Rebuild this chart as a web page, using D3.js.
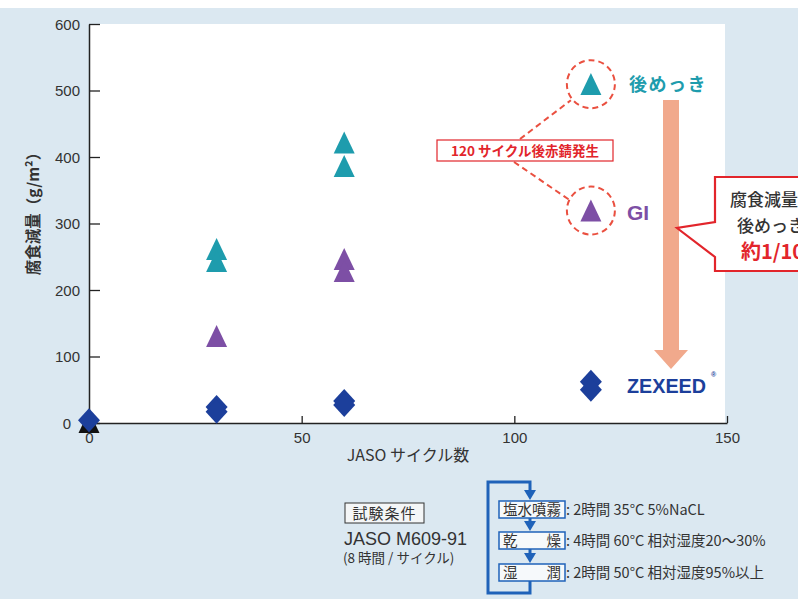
<!DOCTYPE html>
<html><head><meta charset="utf-8">
<script src="https://cdn.jsdelivr.net/npm/d3@7"></script>
<style>
html,body{margin:0;padding:0;background:#fff;}
svg{display:block;}
text{font-family:"Liberation Sans","Noto Sans CJK JP",sans-serif;}
.jp{font-family:"Noto Sans CJK JP","Liberation Sans",sans-serif;}
</style></head>
<body>
<svg id="c" width="798" height="599"></svg>
<script>
// ---- data ----
const xTicks = [0, 50, 100, 150];
const yTicks = [0, 100, 200, 300, 400, 500, 600];
const platingCycles = [30, 30, 60, 60, 118];
const platingValues = [260, 242, 420, 385, 508];
const giCycles = [30, 60, 60, 118];
const giValues = [129, 245, 227, 318];
const zexeedCycles = [0, 30, 30, 60, 60, 118, 118];
const zexeedValues = [4, 24, 17, 33, 27, 62, 50];
const bareCycles = [0];
const bareValues = [0];
const seriesLabels = ["後めっき", "GI", "ZEXEED"];
const xTitle = "JASO サイクル数";
const yTitle = "腐食減量（g/m²）";
const rustNote = "120 サイクル後赤錆発生";
const calloutLines = ["腐食減量は", "後めっきの", "約1/10"];
const condSteps = ["塩水噴霧", "乾　　燥", "湿　　潤"];
const condDetails = [": 2時間 35°C  5%NaCL", ": 4時間 60°C  相対湿度20〜30%", ": 2時間 50°C  相対湿度95%以上"];

const C = {teal:"#1e9cad", purple:"#7d4fa5", navy:"#1c3f9b", red:"#e2252b", salmon:"#f1a98c", blue:"#1f62b9", bg:"#dbe8f1"};

const svg = d3.select("#c");
// background
svg.append("rect").attr("width",798).attr("height",599).attr("fill",C.bg);
svg.append("rect").attr("width",798).attr("height",8).attr("fill","#fff");

const x = d3.scaleLinear().domain([0,150]).range([89,727]);
const y = d3.scaleLinear().domain([0,600]).range([423,24]);

// white plot panel
svg.append("rect").attr("x",x(0)).attr("y",y(600)).attr("width",725-x(0)).attr("height",y(0)-y(600)).attr("fill","#fff");

// axes
const gx = svg.append("g").attr("transform",`translate(0,${y(0)})`)
  .call(d3.axisBottom(x).tickValues(xTicks).tickSizeInner(-7).tickSizeOuter(0).tickPadding(9));
const gy = svg.append("g").attr("transform",`translate(${x(0)},0)`)
  .call(d3.axisLeft(y).tickValues(yTicks).tickSizeInner(-11).tickSizeOuter(0).tickPadding(9));
[gx,gy].forEach(g=>{
  g.selectAll(".domain").attr("stroke","#222").attr("stroke-width",1.5);
  g.selectAll(".tick line").attr("stroke","#222").attr("stroke-width",1.3);
  g.selectAll(".tick text").attr("fill","#333").style("font-size","15px").style("font-family","Liberation Sans, sans-serif");
});
gy.selectAll(".tick text").attr("dy","0.35em").attr("dx",d=>d===0?-9:0);

// axis titles
svg.append("text").attr("class","jp").attr("x",408).attr("y",461).attr("text-anchor","middle")
  .attr("fill","#333").style("font-size","16px").text(xTitle);
svg.append("text").attr("class","jp").attr("transform","translate(39,210) rotate(-90)").attr("text-anchor","middle")
  .attr("fill","#333").style("font-size","15.5px").style("font-weight","bold").text(yTitle);

// marker shapes
const tri = (w,h)=>`M0,${-h*0.55}L${w/2},${h*0.45}L${-w/2},${h*0.45}Z`;
const dia = (w,h)=>`M0,${-h/2}L${w/2},0L0,${h/2}L${-w/2},0Z`;

function plot(cs, vs, path, color){
  svg.append("g").selectAll("path").data(cs.map((c,i)=>[c,vs[i]])).join("path")
    .attr("d",path).attr("fill",color)
    .attr("transform",d=>`translate(${x(d[0])},${y(d[1])})`);
}
plot(bareCycles, bareValues, tri(21,22), "#111");
plot(platingCycles, platingValues, tri(21,22), C.teal);
plot(giCycles, giValues, tri(21,22), C.purple);
plot(zexeedCycles, zexeedValues, dia(22,24), C.navy);

// annotation circles around 118-cycle points
const annoIdx = [[platingCycles[4],platingValues[4]],[giCycles[3],giValues[3]]];
svg.append("g").selectAll("circle").data(annoIdx).join("circle")
  .attr("cx",d=>x(d[0])).attr("cy",d=>y(d[1])-1).attr("r",24)
  .attr("fill","none").attr("stroke","#ea5040").attr("stroke-width",2).attr("stroke-dasharray","6,4");

// dashed leaders to note box
svg.append("line").attr("x1",520).attr("y1",139).attr("x2",x(118)-20).attr("y2",y(platingValues[4])+15)
  .attr("stroke","#ea5040").attr("stroke-width",2).attr("stroke-dasharray","6,4");
svg.append("line").attr("x1",514).attr("y1",162).attr("x2",x(118)-22).attr("y2",y(giValues[3])-12)
  .attr("stroke","#ea5040").attr("stroke-width",2).attr("stroke-dasharray","6,4");
svg.append("rect").attr("x",437).attr("y",140).attr("width",176).attr("height",21)
  .attr("fill","#fff").attr("stroke",C.red).attr("stroke-width",1.2);
svg.append("text").attr("class","jp").attr("x",525).attr("y",156).attr("text-anchor","middle")
  .attr("fill",C.red).style("font-size","13.5px").style("font-weight","bold").text(rustNote);

// series labels
svg.append("text").attr("class","jp").attr("x",629).attr("y",91).attr("fill",C.teal)
  .style("font-size","18px").style("font-weight","bold").style("letter-spacing","1.5px").text(seriesLabels[0]);
svg.append("text").attr("x",627).attr("y",220).attr("fill",C.purple)
  .style("font-size","21px").style("font-weight","bold").text(seriesLabels[1]);
svg.append("text").attr("x",627).attr("y",393).attr("fill",C.navy)
  .style("font-size","21px").style("font-weight","bold").attr("textLength",79).attr("lengthAdjust","spacingAndGlyphs").text(seriesLabels[2]);
svg.append("text").attr("x",711).attr("y",377).attr("fill",C.navy).style("font-size","7px").style("font-weight","bold").text("®");

// salmon arrow
svg.append("path").attr("d","M663,100L679,100L679,350L688,350L671,369L654,350L663,350Z").attr("fill",C.salmon);

// callout
svg.append("path").attr("d","M715,177L810,177L810,271L715,271L715,257L677,228L715,222Z")
  .attr("fill","#fff").attr("stroke",C.red).attr("stroke-width",2.2).attr("stroke-linejoin","miter");
svg.append("text").attr("class","jp").attr("x",730).attr("y",206).attr("fill","#333")
  .style("font-size","17px").style("font-weight","500").text(calloutLines[0]);
svg.append("text").attr("class","jp").attr("x",737).attr("y",232).attr("fill","#333")
  .style("font-size","17px").style("font-weight","500").text(calloutLines[1]);
svg.append("text").attr("class","jp").attr("x",741).attr("y",259).attr("fill",C.red)
  .style("font-size","20px").style("font-weight","bold").text(calloutLines[2]);

// test conditions
svg.append("rect").attr("x",345).attr("y",503).attr("width",79).attr("height",20).attr("fill","#f4f6f7").attr("stroke","#333").attr("stroke-width",1);
svg.append("text").attr("class","jp").attr("x",384.5).attr("y",519).attr("text-anchor","middle").attr("fill","#333")
  .style("font-size","15px").style("letter-spacing","1px").text("試験条件");
svg.append("text").attr("x",344).attr("y",545).attr("fill","#333").style("font-size","18px").text("JASO M609-91");
svg.append("text").attr("class","jp").attr("x",343).attr("y",563).attr("fill","#333").style("font-size","13.5px").text("(8 時間 / サイクル)");

// loop
svg.append("path").attr("d","M530,496L530,482L488,482L488,593L530,593L530,581")
  .attr("fill","none").attr("stroke",C.blue).attr("stroke-width",3);
const boxTop = [501, 532, 564];
boxTop.forEach((t,i)=>{
  if(i>0) svg.append("line").attr("x1",530).attr("x2",530).attr("y1",boxTop[i-1]+17).attr("y2",t-8).attr("stroke",C.blue).attr("stroke-width",3);
  svg.append("path").attr("d",`M524,${t-11}L536,${t-11}L530,${t-1}Z`).attr("fill",C.blue);
  svg.append("rect").attr("x",499).attr("y",t).attr("width",66).attr("height",17).attr("fill","#f6f9fb").attr("stroke",C.blue).attr("stroke-width",1.5);
  svg.append("text").attr("class","jp").attr("x",532).attr("y",t+14).attr("text-anchor","middle").attr("fill","#333")
    .style("font-size","14.5px").text(condSteps[i]);
  svg.append("text").attr("class","jp").attr("x",566).attr("y",t+14).attr("fill","#333")
    .style("font-size","14.5px").text(condDetails[i]);
});
</script>
</body></html>
